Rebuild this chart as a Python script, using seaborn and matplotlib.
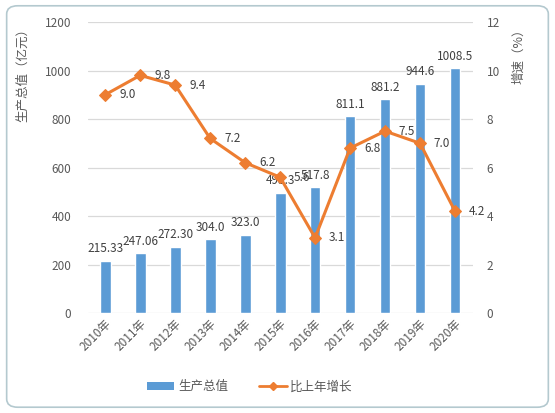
import numpy as np
import pandas as pd
import matplotlib
matplotlib.use("Agg")
import matplotlib.pyplot as plt
from matplotlib.patches import FancyBboxPatch, Patch
from matplotlib.lines import Line2D
import seaborn as sns

# dados
anos = ["2010年", "2011年", "2012年", "2013年", "2014年", "2015年",
        "2016年", "2017年", "2018年", "2019年", "2020年"]
producao = [215.33, 247.06, 272.30, 304.0, 323.0, 495.3, 517.8, 811.1, 881.2, 944.6, 1008.5]
producao_rotulos = ["215.33", "247.06", "272.30", "304.0", "323.0", "495.3",
                    "517.8", "811.1", "881.2", "944.6", "1008.5"]
crescimento = [9.0, 9.8, 9.4, 7.2, 6.2, 5.6, 3.1, 6.8, 7.5, 7.0, 4.2]

df = pd.DataFrame({"ano": anos, "producao": producao, "crescimento": crescimento})
df["pos"] = np.arange(len(df))

sns.set_style("white")
plt.rcParams["font.family"] = ["Noto Sans CJK SC", "DejaVu Sans"]
plt.rcParams["font.size"] = 8.5

azul = "#5b9bd5"
laranja = "#ed7d31"
cinza = "#595959"

fig = plt.figure(figsize=(5.55, 4.13), dpi=100)
fig.patch.set_facecolor("white")
# moldura arredondada
moldura = FancyBboxPatch((0.012, 0.014), 0.976, 0.972, boxstyle="round,pad=0,rounding_size=0.02",
                         transform=fig.transFigure, facecolor="white", edgecolor="#b4c9cf",
                         linewidth=1.2, zorder=-10)
fig.patches.append(moldura)

ax = fig.add_axes([0.1586, 0.2421, 0.6934, 0.7046])
ax.set_facecolor("none")
sns.barplot(data=df, x="ano", y="producao", color=azul, width=0.31, saturation=1, ax=ax, zorder=2)
ax.bar_label(ax.containers[0], labels=producao_rotulos, padding=4, color="#404040", fontsize=8.5)
ax.set_ylim(0, 1200)
ax.set_yticks(np.arange(0, 1201, 200))
ax.set_xlim(-0.49, 10.51)
ax.grid(axis="y", color="#d9d9d9", linewidth=0.9, zorder=0)
ax.set_axisbelow(True)
for s in ax.spines.values():
    s.set_visible(False)
ax.set_xlabel("")
ax.set_ylabel("")
ax.tick_params(axis="y", length=0, colors=cinza, pad=12)
ax.tick_params(axis="x", length=0, colors=cinza, pad=3)
plt.setp(ax.get_xticklabels(), rotation=45, ha="right", rotation_mode="anchor")

ax2 = ax.twinx()
sns.lineplot(data=df, x="pos", y="crescimento", color=laranja, marker="D", markersize=6,
             markeredgecolor=laranja, linewidth=2.2, ax=ax2, zorder=3)
for x, y in zip(df["pos"], df["crescimento"]):
    ax2.annotate(f"{y:.1f}", (x, y), xytext=(10, 0), textcoords="offset points",
                 ha="left", va="center", color="#404040", fontsize=8.5)
ax2.set_ylim(0, 12)
ax2.set_yticks(np.arange(0, 13, 2))
for s in ax2.spines.values():
    s.set_visible(False)
ax2.set_xlabel("")
ax2.set_ylabel("")
ax2.tick_params(axis="y", length=0, colors=cinza, pad=10)

fig.text(0.04, 0.946, "生产总值（亿元）", rotation=90, va="top", ha="center", color=cinza, fontsize=9)
fig.text(0.935, 0.946, "增速（%）", rotation=90, va="top", ha="center", color=cinza, fontsize=9)

handles = [Patch(facecolor=azul, edgecolor="none"),
           Line2D([0], [0], color=laranja, linewidth=2, marker="D", markersize=4)]
fig.legend(handles, ["生产总值", "比上年增长"], loc="center", bbox_to_anchor=(0.45, 0.063),
           ncol=2, frameon=False, fontsize=9, labelcolor=cinza, handlelength=2.2,
           columnspacing=2.5, handletextpad=0.3)

fig.savefig("out.png", dpi=100)
